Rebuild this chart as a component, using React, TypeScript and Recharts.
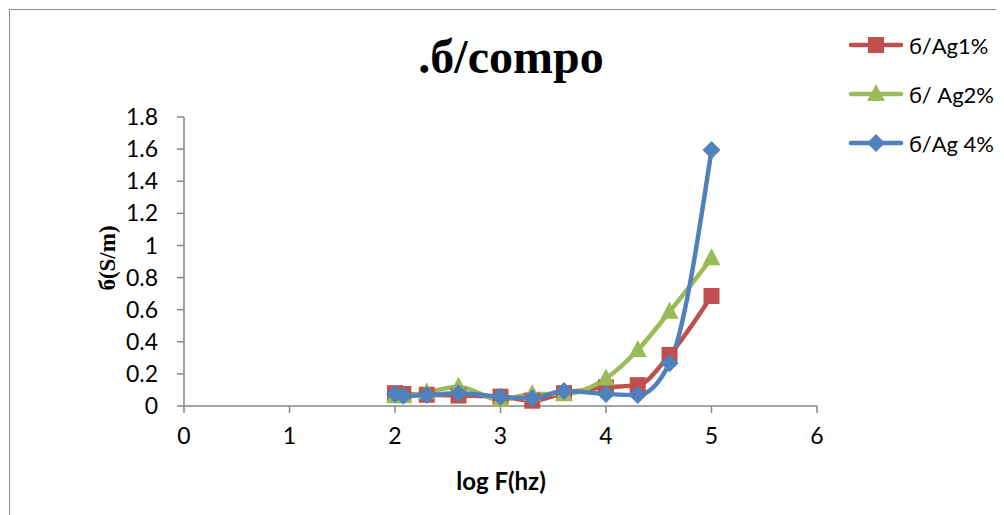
import React from 'react';
import { LineChart, Line, XAxis, YAxis } from 'recharts';

// log of frequency (hz)
const logF = [2, 2.079, 2.301, 2.602, 3, 3.301, 3.602, 4, 4.301, 4.602, 5];

// conductivity values
const ag1 = [0.08, 0.075, 0.07, 0.065, 0.058, 0.033, 0.08, 0.116, 0.13, 0.318, 0.685];
const ag2 = [0.06, 0.06, 0.085, 0.12, 0.037, 0.075, 0.075, 0.172, 0.349, 0.587, 0.92];
const ag4 = [0.075, 0.064, 0.068, 0.079, 0.058, 0.048, 0.093, 0.075, 0.068, 0.266, 1.594];

const seriesNames = ['б/Ag1%', 'б/ Ag2%', 'б/Ag 4%'];
const seriesColors = ['#C0504D', '#9BBB59', '#4F81BD'];

const xTicks = [0, 1, 2, 3, 4, 5, 6];
const yTicks = [0, 0.2, 0.4, 0.6, 0.8, 1, 1.2, 1.4, 1.6, 1.8];

const data = logF.map((x, i) => ({ x, a1: ag1[i], a2: ag2[i], a4: ag4[i] }));

const FONT = 'Lato, "Open Sans", sans-serif';
const AXIS = '#868686';

type Shape = 'square' | 'triangle' | 'diamond';
const shapes: Shape[] = ['square', 'triangle', 'diamond'];

function marker(shape: Shape, cx: number, cy: number, color: string, key?: React.Key) {
    if (shape === 'square') {
        return <rect key={key} x={cx - 8} y={cy - 8} width={16} height={16} fill={color} />;
    }
    if (shape === 'triangle') {
        return <polygon key={key} points={`${cx},${cy - 10} ${cx + 9},${cy + 7} ${cx - 9},${cy + 7}`} fill={color} />;
    }
    return <polygon key={key} points={`${cx},${cy - 9} ${cx + 9},${cy} ${cx},${cy + 9} ${cx - 9},${cy}`} fill={color} />;
}

const makeDot = (shape: Shape, color: string) => (props: any) => {
    const { cx, cy, index } = props;
    if (cx == null || cy == null) return <g key={index} />;
    return marker(shape, cx, cy, color, index);
};

const tickStyle = { fontFamily: FONT, fontSize: 23, fill: '#000' };

const App: React.FC = () => {
    const keys = ['a1', 'a2', 'a4'];
    return (
        <div style={{ position: 'relative', width: 996, height: 507 }}>
            <div style={{ position: 'absolute', left: 1, top: 1, width: 1100, height: 600, border: '1px solid #8c8c8c' }} />
            <div style={{ position: 'absolute', left: 0, top: 0 }}>
                <LineChart width={996} height={507} data={data} margin={{ top: 109, right: 187, bottom: 69, left: 116 }}>
                    <XAxis
                        dataKey="x"
                        type="number"
                        domain={[0, 6]}
                        ticks={xTicks}
                        interval={0}
                        height={40}
                        stroke={AXIS}
                        strokeWidth={1.5}
                        tickSize={7}
                        tickMargin={15}
                        tick={tickStyle}
                    />
                    <YAxis
                        type="number"
                        domain={[0, 1.8]}
                        ticks={yTicks}
                        interval={0}
                        width={60}
                        stroke={AXIS}
                        strokeWidth={1.5}
                        tickSize={7}
                        tickMargin={19}
                        tick={tickStyle}
                    />
                    {keys.map((k, i) => (
                        <Line
                            key={k}
                            type="monotone"
                            dataKey={k}
                            name={seriesNames[i]}
                            stroke={seriesColors[i]}
                            strokeWidth={4.5}
                            dot={makeDot(shapes[i], seriesColors[i])}
                            activeDot={false}
                            isAnimationActive={false}
                        />
                    ))}
                </LineChart>
            </div>
            <svg width={1100} height={507} style={{ position: 'absolute', left: 0, top: 0, pointerEvents: 'none', overflow: 'visible' }}>
                <text x={503} y={65} textAnchor="middle" fontFamily='"Liberation Serif", serif' fontWeight="bold" fontSize={48}>.б/compo</text>
                <text
                    x={0}
                    y={0}
                    transform="translate(99,250) rotate(-90)"
                    textAnchor="middle"
                    dominantBaseline="central"
                    fontFamily='"Liberation Serif", serif'
                    fontWeight="bold"
                    fontSize={23}
                >
                    б(S/m)
                </text>
                <text x={493} y={482} textAnchor="middle" fontFamily={FONT} fontWeight="bold" fontSize={24}>log F(hz)</text>
                {seriesNames.map((name, i) => {
                    const cy = 37 + i * 49;
                    return (
                        <g key={name}>
                            <line x1={843} x2={893} y1={cy} y2={cy} stroke={seriesColors[i]} strokeWidth={4.5} strokeLinecap="round" />
                            {marker(shapes[i], 868, cy, seriesColors[i])}
                            <text x={901} y={cy} dominantBaseline="central" fontFamily={FONT} fontSize={22}>{name}</text>
                        </g>
                    );
                })}
            </svg>
        </div>
    );
};

export default App;
